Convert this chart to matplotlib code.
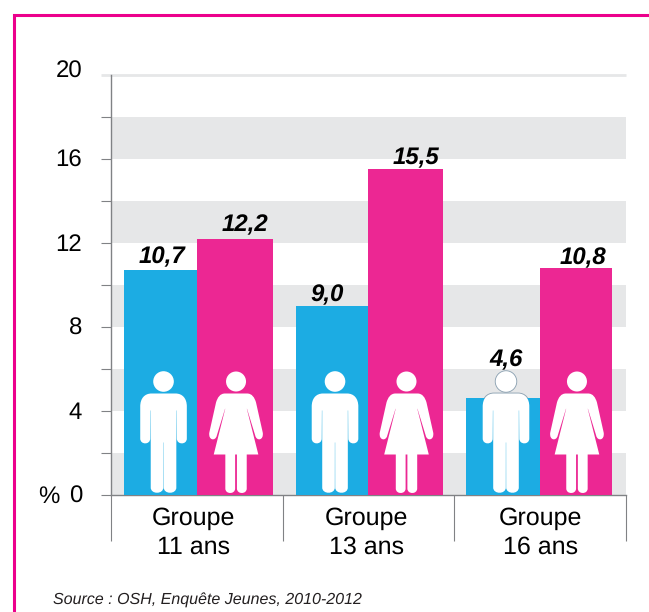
#importamos las librerias
import matplotlib
matplotlib.use("Agg")
import matplotlib.pyplot as plt
from matplotlib.lines import Line2D
from matplotlib.patches import Circle, PathPatch
from matplotlib.path import Path
from matplotlib.transforms import Affine2D

grupos = ["Groupe\n11 ans", "Groupe\n13 ans", "Groupe\n16 ans"]
garcons = [10.7, 9.0, 4.6]
filles = [12.2, 15.5, 10.8]
marcas_y = [0, 4, 8, 12, 16, 20]
fuente = "Source : OSH, Enquête Jeunes, 2010-2012"

azul = "#1cace3"
rosa = "#ec2793"
gris_banda = "#e6e7e8"
gris_eje = "#808285"
gris_icono = "#8ea3b3"
rosa_marco = "#ec008c"

plt.rcParams["font.family"] = ["Liberation Sans", "DejaVu Sans"]
plt.rcParams["text.hinting"] = "no_hinting"
plt.rcParams["text.hinting_factor"] = 1

fig = plt.figure(figsize=(6.49, 6.12), dpi=100)
ax = fig.add_axes([111 / 649, 1 - 494.5 / 612, (626 - 111) / 649, 419.5 / 612])
ax.set_xlim(0, 3)
ax.set_ylim(0, 20)

#marco rosa de la pagina
fig.add_artist(Line2D([13.5 / 649, 13.5 / 649, 1], [0, 1 - 14.5 / 612, 1 - 14.5 / 612],
                      color=rosa_marco, lw=2.2, solid_joinstyle="miter"))

#bandas grises y linea de arriba
for v in [0, 4, 8, 12, 16]:
    ax.axhspan(v, v + 2, color=gris_banda, lw=0, zorder=0)
ax.plot([-0.06, 3], [20, 20], color=gris_banda, lw=2, clip_on=False, zorder=1, solid_capstyle="butt")

#bordes de las barras
borde_azul = [0.076, 1.078, 2.068]
borde_medio = [0.501, 1.497, 2.499]
borde_rosa = [0.944, 1.934, 2.918]
for i in range(3):
    ax.bar(borde_azul[i], garcons[i], borde_medio[i] - borde_azul[i], align="edge", color=azul, zorder=3)
    ax.bar(borde_medio[i], filles[i], borde_rosa[i] - borde_medio[i], align="edge", color=rosa, zorder=3)


#convierte media silueta en una silueta entera
def espejo(puntos):
    verts = [p[:2] for p in puntos]
    codes = [p[2] for p in puntos]
    # la vuelta se recorre al reves, el codigo va con el punto final de cada tramo
    for k in range(len(puntos) - 1, 0, -1):
        verts.append((-puntos[k - 1][0], puntos[k - 1][1]))
        codes.append(puntos[k][2])
    codes[0] = Path.MOVETO
    return Path(verts, codes)


L = Path.LINETO
C = Path.CURVE4

silueta_chico = espejo([
    (0, 101, L), (12, 101, L),
    (19, 101, C), (23.3, 96, C), (23.3, 88, C),
    (23.3, 56, L),
    (23.3, 49.5, C), (13.3, 49.5, C), (13.3, 56, C),
    (13.1, 84, L), (12.8, 84, L), (12.8, 7, L),
    (12.8, 0, C), (0.2, 0, C), (0.2, 7, C),
    (0.15, 52, L), (0, 52, L),
])

silueta_chica = espejo([
    (0, 101, L), (11, 101, L),
    (16, 101, C), (18.5, 97, C), (20, 92, C),
    (26.7, 62, L),
    (28, 54, C), (20.5, 53, C), (19.2, 59, C),
    (11.0, 85.7, L), (10.8, 85.7, L), (22.3, 40, L),
    (10.7, 40, L), (10.7, 6, L),
    (10.7, 0, C), (0.9, 0, C), (0.9, 6, C),
    (0.9, 40, L), (0, 40, L),
])


#dibuja una figura apoyada en el eje, medida en pixeles
def dibujar_icono(x_dato, silueta, cabeza_r, borde=None):
    px, py = ax.transData.transform((x_dato, 0))
    trans = Affine2D().translate(px, py)
    for forma in [PathPatch(silueta), Circle((0, 113), cabeza_r)]:
        forma.set_transform(trans)
        forma.set_clip_on(False)
        if borde:
            forma.set(facecolor="white", edgecolor=borde, lw=1.3, zorder=2)
        else:
            forma.set(facecolor="white", edgecolor="none", zorder=4)
        ax.add_artist(forma)


px_dato = 3 / (626 - 111)
for i in range(3):
    x_chico = (borde_azul[i] + borde_medio[i]) / 2 + 3 * px_dato
    x_chica = (borde_medio[i] + borde_rosa[i]) / 2 + 1 * px_dato
    if garcons[i] < 5:
        dibujar_icono(x_chico, silueta_chico, 10.3, borde=gris_icono)
    dibujar_icono(x_chico, silueta_chico, 10.3)
    dibujar_icono(x_chica, silueta_chica, 10)

#valores arriba de las barras
ajuste_azul = [1, -5, 3]
alto_azul = [2, -1, 27]
ajuste_rosa = [10, 10, 7]
alto_rosa = [2, 0, -1]
for i in range(3):
    for borde_a, borde_b, valor, dx, dy in [(borde_azul[i], borde_medio[i], garcons[i], ajuste_azul[i], alto_azul[i]),
                                            (borde_medio[i], borde_rosa[i], filles[i], ajuste_rosa[i], alto_rosa[i])]:
        ax.annotate(f"{valor:.1f}".replace(".", ","), ((borde_a + borde_b) / 2, valor),
                    xytext=(dx, dy), textcoords="offset pixels", ha="center", va="bottom",
                    fontsize=17, fontweight="bold", fontstyle="italic", color="black",
                    zorder=5, annotation_clip=False)

#ejes
for lado in ["top", "right"]:
    ax.spines[lado].set_visible(False)
for lado in ["left", "bottom"]:
    ax.spines[lado].set_color(gris_eje)
    ax.spines[lado].set_linewidth(1)
    ax.spines[lado].set_zorder(2)
ax.spines["left"].set_bounds(0, 20)
ax.set_yticks(range(0, 20, 2))
ax.set_yticklabels([])
ax.tick_params(axis="y", length=7.2, width=0.8, color=gris_eje)
ax.set_xticks(range(4))
ax.set_xticklabels([])
ax.tick_params(axis="x", length=33, width=0.8, color=gris_eje)

#etiquetas del eje y
for v in marcas_y:
    dy = 3 if v == 20 else -2
    ax.annotate(str(v), (0, v), xycoords=("axes fraction", "data"), xytext=(-29, dy),
                textcoords="offset pixels", ha="right", va="center", fontsize=17)
ax.annotate("%", (0, 0), xycoords=("axes fraction", "data"), xytext=(-52, -2),
            textcoords="offset pixels", ha="right", va="center", fontsize=17)

#etiquetas de los grupos
ajuste_grupo = [-3, -2, 0]
for i in range(3):
    ax.annotate(grupos[i], (i + 0.5, 0), xytext=(ajuste_grupo[i], -12), textcoords="offset pixels",
                ha="center", va="top", fontsize=18, linespacing=1.32, annotation_clip=False)

fig.text(53 / 649, 1 - 600 / 612, fuente, fontsize=11.6, fontstyle="italic", va="center", color="#231f20")

fig.savefig("out.png", dpi=100)
